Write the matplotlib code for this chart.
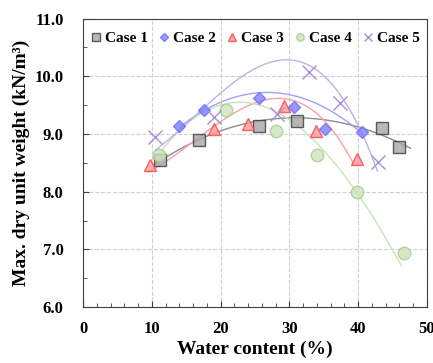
import numpy as np
import matplotlib.pyplot as plt
from matplotlib.ticker import MultipleLocator, FormatStrFormatter

plt.rcParams['font.family'] = ['Liberation Serif', 'DejaVu Serif']
plt.rcParams['font.weight'] = 'bold'

labels = ['Case 1', 'Case 2', 'Case 3', 'Case 4', 'Case 5']

# measured points
w1 = [11.2, 16.9, 25.6, 31.1, 43.4, 46.0]
g1 = [8.55, 8.89, 9.14, 9.22, 9.10, 8.77]
w2 = [14.0, 17.6, 25.6, 30.7, 35.2, 40.5]
g2 = [9.14, 9.41, 9.63, 9.47, 9.09, 9.03]
w3 = [9.7, 19.1, 24.0, 29.2, 33.8, 39.9]
g3 = [8.46, 9.08, 9.17, 9.48, 9.05, 8.56]
w4 = [11.0, 20.8, 28.1, 34.0, 39.8, 46.7]
g4 = [8.64, 9.41, 9.05, 8.64, 8.00, 6.93]
w5 = [10.4, 19.1, 28.2, 32.8, 37.3, 42.9]
g5 = [8.95, 9.29, 9.35, 10.07, 9.54, 8.52]

# points
tw1 = [10.5, 17.0, 25.7, 28.7, 33.5, 40.8, 47.6]
tg1 = [8.49, 8.89, 9.20, 9.31, 9.30, 9.04, 8.77]
tw2 = [14.0, 17.6, 22.0, 27.2, 33.5, 40.4]
tg2 = [9.12, 9.40, 9.62, 9.75, 9.53, 9.03]
tw3 = [9.5, 15.6, 22.8, 29.5, 35.9, 39.3]
tg3 = [8.32, 8.89, 9.36, 9.60, 9.18, 8.45]
tw4 = [11.0, 15.6, 23.8, 28.7, 31.6, 37.1, 39.8, 46.3]
tg4 = [8.70, 9.12, 9.53, 9.47, 9.12, 8.30, 7.99, 6.74]
tw5 = [10.5, 19.9, 24.8, 29.5, 33.5, 40.0, 42.8]
tg5 = [8.72, 9.70, 10.11, 10.29, 10.16, 9.12, 8.37]

xs = [w1, w2, w3, w4, w5]
ys = [g1, g2, g3, g4, g5]
txs = [tw1, tw2, tw3, tw4, tw5]
tys = [tg1, tg2, tg3, tg4, tg5]

markers = ['s', 'D', '^', 'o', 'x']
sizes = [8.5, 6.3, 8.5, 9, 10]
faces = ['#a6a6a6', '#8080ff', '#ff9b9b', '#cde2bd', '#a98fd4']
edges = ['#3a3a3a', '#6b6bff', '#ff4040', '#a4cc8c', '#a98fd4']
lines = ['#8c8c8c', '#a0a0ff', '#ffa0a0', '#c9e3b5', '#c3b0e3']

fig, ax = plt.subplots(figsize=(4.33, 3.63), dpi=100)
fig.subplots_adjust(left=0.192, right=0.986, top=0.949, bottom=0.154)

for i in range(5):
    tx = np.array(txs[i])
    c = np.polyfit(tx, np.array(tys[i]), 3)
    xx = np.linspace(tx.min(), tx.max(), 200)
    ax.plot(xx, np.polyval(c, xx), color=lines[i], lw=1, zorder=2)
    if markers[i] == 'x':
        ax.plot(xs[i], ys[i], ls='none', marker='x', ms=sizes[i], mew=1,
                color=edges[i], label=labels[i], zorder=3)
    else:
        ax.plot(xs[i], ys[i], ls='none', marker=markers[i], ms=sizes[i],
                mfc=faces[i], mec=edges[i], mew=1, alpha=0.8,
                label=labels[i], zorder=3)

ax.set_xlim(0, 50)
ax.set_ylim(6.0, 11.0)
ax.xaxis.set_major_locator(MultipleLocator(10))
ax.xaxis.set_minor_locator(MultipleLocator(2))
ax.yaxis.set_major_locator(MultipleLocator(1))
ax.yaxis.set_minor_locator(MultipleLocator(0.5))
ax.yaxis.set_major_formatter(FormatStrFormatter('%.1f'))
ax.tick_params(which='both', direction='in', labelsize=12,
               colors='#404040', labelcolor='black')
ax.tick_params(which='major', length=4)
ax.tick_params(which='minor', length=3)
ax.tick_params(axis='x', which='major', pad=10)
ax.tick_params(axis='y', which='major', pad=14)
ax.grid(True, which='major', ls='--', color='#d0d0d0', lw=0.8)
for s in ax.spines.values():
    s.set_color('#404040')

ax.set_xlabel('Water content (%)', fontsize=14, fontweight='bold', labelpad=3)
ax.set_ylabel('Max. dry unit weight (kN/m³)', fontsize=14, fontweight='bold',
              labelpad=3)

ax.legend(loc='upper center', ncol=5, frameon=False, fontsize=11,
          markerscale=0.6, handlelength=0.7, handletextpad=0.25,
          columnspacing=0.7, borderaxespad=0.45, bbox_to_anchor=(0.5, 1.0))

fig.savefig('out.png', dpi=100)
